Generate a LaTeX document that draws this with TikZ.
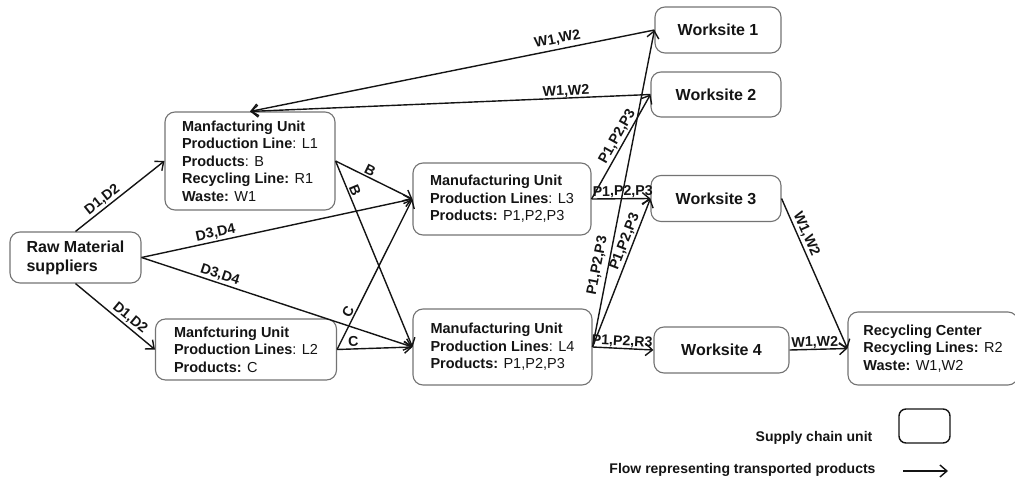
\documentclass[tikz,border=0pt]{standalone}
\usepackage{fontspec}
\setmainfont{Liberation Sans}
\usetikzlibrary{arrows.meta}
\definecolor{boxgray}{RGB}{115,115,115}
\definecolor{ink}{RGB}{20,20,20}
\begin{document}
\begin{tikzpicture}[x=1pt,y=-1pt,
  unit/.style={draw=boxgray, line width=1.1pt, rounded corners=10pt, align=left,
    inner ysep=2pt, inner xsep=4pt, text=ink, font=\fontsize{14.5}{17.5}\selectfont},
  site/.style={unit, font=\fontsize{16}{19}\selectfont\bfseries, align=center},
  flow/.style={draw=ink, line width=1.4pt, -{Straight Barb[length=7pt,width=12pt]}},
  lbl/.style={font=\fontsize{14.2}{15}\selectfont\bfseries, text=ink, sloped, above, inner sep=1.5pt},
  legtext/.style={font=\fontsize{14}{16}\selectfont\bfseries, text=ink, anchor=base}
]
\useasboundingbox (0,0) rectangle (1015,481);

% units
\node[unit, font=\fontsize{16}{19}\selectfont\bfseries, minimum width=131pt, minimum height=51pt] (raw) at (75.5,257.5)
  {Raw Material\\suppliers};
\node[unit, minimum width=170pt, minimum height=98pt] (m1) at (250,161)
  {\textbf{Manfacturing Unit}\\\textbf{Production Line}: L1\\\textbf{Products}: B\\\textbf{Recycling Line:} R1\\\textbf{Waste:} W1};
\node[unit, minimum width=181pt, minimum height=61pt] (m2) at (246,349.5)
  {\textbf{Manfcturing Unit}\\\textbf{Production Lines}: L2\\\textbf{Products:} C};
\node[unit, minimum width=178pt, minimum height=72pt] (m3) at (502,199)
  {\textbf{Manufacturing Unit}\\\textbf{Production Lines}: L3\\\textbf{Products:} P1,P2,P3};
\node[unit, minimum width=179pt, minimum height=76pt] (m4) at (502.5,347)
  {\textbf{Manufacturing Unit}\\\textbf{Production Lines}: L4\\\textbf{Products:} P1,P2,P3};
\node[site, minimum width=126pt, minimum height=46pt] (w1) at (718,30) {Worksite 1};
\node[site, minimum width=130pt, minimum height=45pt] (w2) at (716,94.5) {Worksite 2};
\node[site, minimum width=130pt, minimum height=46pt] (w3) at (716,198.5) {Worksite 3};
\node[site, minimum width=135pt, minimum height=46pt] (w4) at (721.5,350) {Worksite 4};
\node[unit, minimum width=170pt, minimum height=73pt] (rc) at (933,348.5)
  {\textbf{Recycling Center}\\\textbf{Recycling Lines:} R2\\\textbf{Waste:} W1,W2};

% flows
\draw[flow] (raw.north) -- node[lbl, pos=0.36] (l1) {D1,D2} (m1.west);
\draw[flow] (raw.south) -- node[lbl, pos=0.62] (l2) {D1,D2} (m2.west);
\draw[flow] (raw.east) -- node[lbl, pos=0.28] (l3) {D3,D4} (m3.west);
\draw[flow] (raw.east) -- node[lbl, pos=0.28] (l4) {D3,D4} (m4.west);
\draw[flow] (m1.east) -- node[lbl, pos=0.41] (l5) {B} (m3.west);
\draw[flow] (m1.east) -- node[lbl, pos=0.17] (l6) {B} (m4.west);
\draw[flow] (m2.east) -- node[lbl, pos=0.23] (l7) {C} (m3.west);
\draw[flow] (m2.east) -- node[lbl, pos=0.22] (l8) {C} (m4.west);
\draw[flow] (m3.east) -- node[lbl, pos=0.56] (l9) {P1,P2,P3} (w2.west);
\draw[flow] (m3.east) -- node[lbl, pos=0.53, inner sep=0pt] (l10) {P1,P2,P3} (w3.west);
\draw[flow] (m4.east) -- node[lbl, pos=0.25, inner sep=4pt] (l11) {P1,P2,P3} (w1.west);
\draw[flow] (m4.east) -- node[lbl, pos=0.69] (l12) {P1,P2,P3} (w3.west);
\draw[flow] (m4.east) -- node[lbl, pos=0.48, inner sep=0pt] (l13) {P1,P2,R3} (w4.west);
\draw[flow] (w1.west) -- node[lbl, pos=0.235, inner sep=3pt] (l14) {W1,W2} (m1.north);
\draw[flow] (w2.west) -- node[lbl, pos=0.21, inner sep=0pt] (l15) {W1,W2} (m1.north);
\draw[flow] (w3.east) -- node[lbl, pos=0.26] (l16) {W1,W2} (rc.west);
\draw[flow] (w4.east) -- node[lbl, pos=0.44, inner sep=0pt] (l17) {W1,W2} (rc.west);

% legend
\node[draw=ink, line width=1.4pt, rounded corners=7pt, minimum width=51pt, minimum height=34pt] (legbox) at (924.5,426) {};
\node[legtext] (legunit) at (814,441) {Supply chain unit};
\node[legtext] (legflow) at (742.5,473) {Flow representing transported products};
\coordinate (arrA) at (903,471);
\coordinate (arrB) at (948,471);
\draw[flow] (arrA) -- (arrB);
\end{tikzpicture}
\end{document}
